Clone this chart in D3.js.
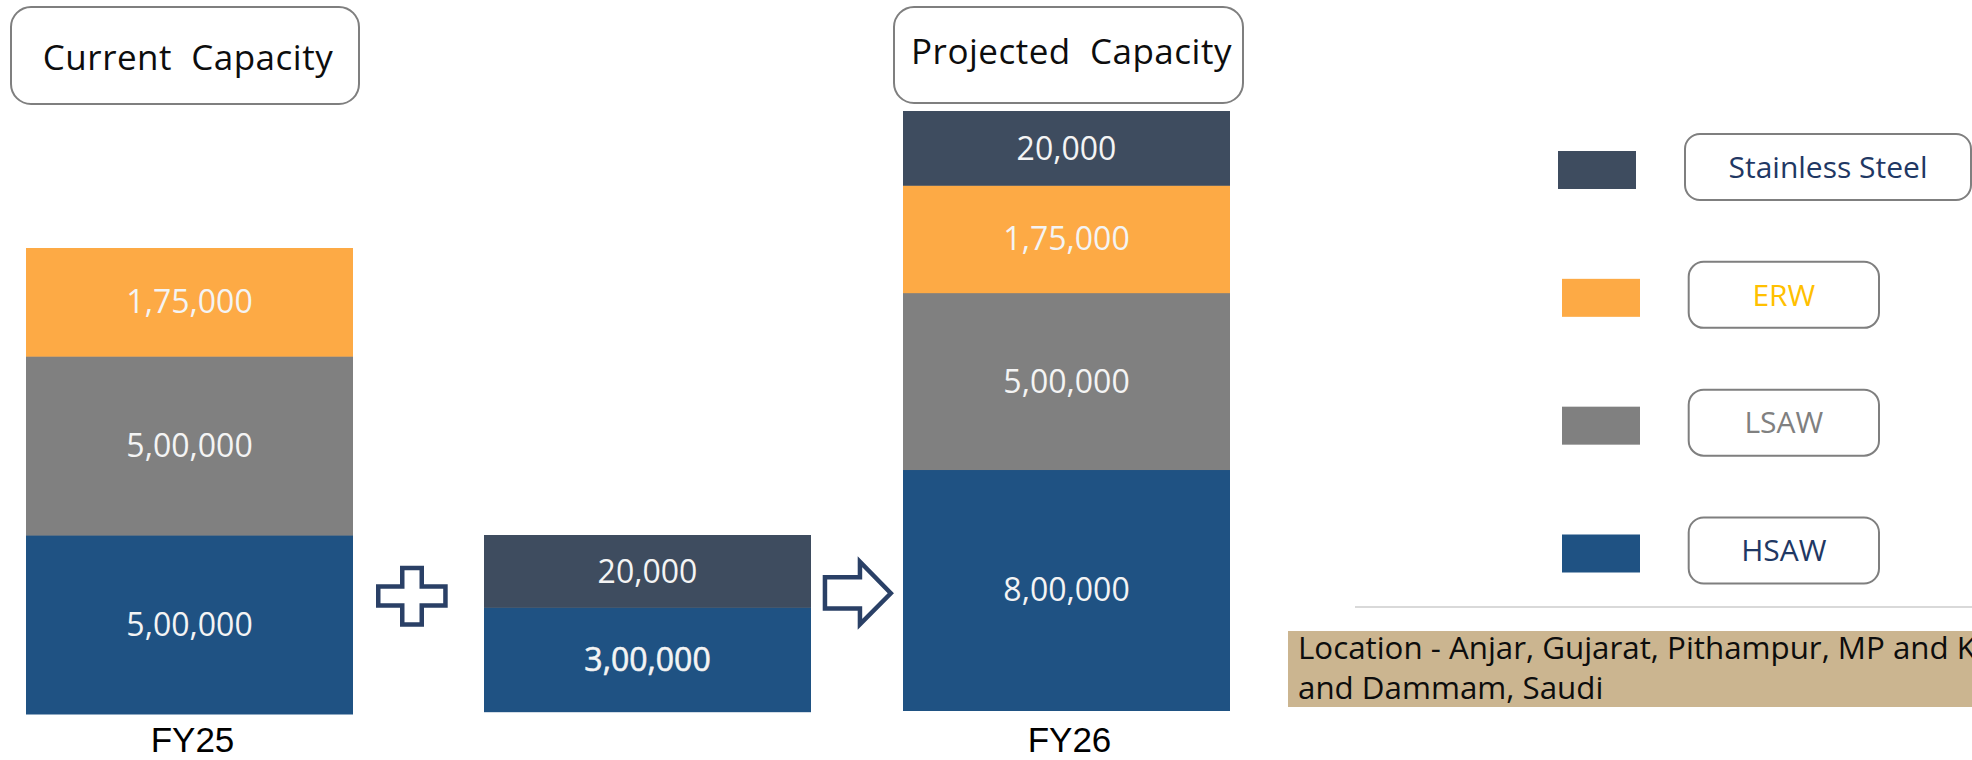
<!DOCTYPE html>
<html><head><meta charset="utf-8">
<script src="https://cdn.jsdelivr.net/npm/d3@7/dist/d3.min.js"></script>
<style>html,body{margin:0;padding:0;background:#fff;overflow:hidden}</style>
</head><body>
<svg id="chart" width="1972" height="760"></svg>
<script>
// ---------------- DATA ----------------
const categories = ["Stainless Steel", "ERW", "LSAW", "HSAW"];        // legend order (top -> bottom)
const stackOrder = ["HSAW", "LSAW", "ERW", "Stainless Steel"];         // bottom -> top
const barKeys = ["FY25", "Addition", "FY26"];
const fy25Values = [0, 175000, 500000, 500000];        // per category
const additionValues = [20000, 0, 0, 300000];
const fy26Values = [20000, 175000, 500000, 800000];
const barLabels = ["FY25", "", "FY26"];
const titleLabels = ["Current  Capacity", "Projected  Capacity"];
const locationLines = ["Location - Anjar, Gujarat, Pithampur, MP and K", "and Dammam, Saudi"];

// ---------------- STYLE / LAYOUT ----------------
const colors = {"Stainless Steel": "#3e4c5f", "ERW": "#fdaa45", "LSAW": "#808080", "HSAW": "#1f5283"};
const legendTextColors = {"Stainless Steel": "#1f3864", "ERW": "#ffc000", "LSAW": "#808080", "HSAW": "#1f3864"};
const FONT = "'Open Sans', 'Noto Sans', sans-serif";
const frames = [
  {x0: 26, x1: 353, top: 248, bottom: 714},
  {x0: 484, x1: 811, top: 535, bottom: 711.7},
  {x0: 903, x1: 1230, top: 111, bottom: 710.5}
];
const baseSegment = 70;   // every block has this minimum height (infographic style)

const svg = d3.select("#chart");

function fmtIN(v) {
  const s = String(v);
  if (s.length <= 3) return s;
  const last3 = s.slice(-3);
  let rest = s.slice(0, -3);
  const parts = [];
  while (rest.length > 2) { parts.unshift(rest.slice(-2)); rest = rest.slice(0, -2); }
  if (rest) parts.unshift(rest);
  return parts.join(",") + "," + last3;
}

const seriesByBar = [fy25Values, additionValues, fy26Values];

barKeys.forEach((key, bi) => {
  const f = frames[bi];
  const vals = seriesByBar[bi];
  const segs = stackOrder
    .map(cat => ({cat, v: vals[categories.indexOf(cat)]}))
    .filter(s => s.v > 0);
  const total = d3.sum(segs, s => s.v);
  const hScale = d3.scaleLinear().domain([0, total])
    .range([0, (f.bottom - f.top) - segs.length * baseSegment]);
  let y = f.bottom;
  segs.forEach(s => { s.h = baseSegment + hScale(s.v); s.y = y - s.h; y -= s.h; });

  const g = svg.append("g");
  g.selectAll("rect").data(segs).join("rect")
    .attr("x", f.x0).attr("width", f.x1 - f.x0)
    .attr("y", d => d.y).attr("height", d => d.h + 0.5)
    .attr("fill", d => colors[d.cat]);
  g.selectAll("text").data(segs).join("text")
    .attr("x", (f.x0 + f.x1) / 2)
    .attr("y", d => d.y + d.h / 2)
    .attr("dy", "0.357em")
    .attr("text-anchor", "middle")
    .attr("font-family", FONT)
    .attr("font-size", 32)
    .attr("fill", "#f4f4f4")
    .attr("stroke", d => (key === "Addition" && d.cat === "HSAW") ? "#f4f4f4" : "none")
    .attr("stroke-width", 0.6)
    .text(d => fmtIN(d.v));
  if (barLabels[bi]) {
    g.append("text")
      .attr("x", (f.x0 + f.x1) / 2 + 3)
      .attr("y", Math.min(f.bottom + 42, 752))
      .attr("text-anchor", "middle")
      .attr("font-family", "'Liberation Sans', Arial, sans-serif")
      .attr("font-size", 35)
      .attr("fill", "#000")
      .text(barLabels[bi]);
  }
});

// ---------------- TITLE BOXES ----------------
const titleBoxes = [
  {x0: 11, x1: 359, y0: 7, y1: 104, base: 70},
  {x0: 894, x1: 1243, y0: 7, y1: 103, base: 63.5}
];
titleBoxes.forEach((b, i) => {
  svg.append("rect").attr("x", b.x0).attr("y", b.y0)
    .attr("width", b.x1 - b.x0).attr("height", b.y1 - b.y0)
    .attr("rx", 20).attr("fill", "#fff").attr("stroke", "#7f7f7f").attr("stroke-width", 2);
  svg.append("text").attr("x", (b.x0 + b.x1) / 2 + 3).attr("y", b.base)
    .attr("text-anchor", "middle").attr("font-family", FONT).attr("font-size", 35)
    .attr("letter-spacing", 0.5)
    .attr("fill", "#0d0d0d").style("white-space", "pre").text(titleLabels[i]);
});

// ---------------- PLUS & ARROW ----------------
const iconColor = "#2a4066", sw = 4.5, s = sw / 2;
{
  const x0 = 376 + s, x1 = 400 + s, x2 = 424 - s, x3 = 447.7 - s;
  const y0 = 565.7 + s, y1 = 584.3 + s, y2 = 607.7 - s, y3 = 626.7 - s;
  const p = d3.path();
  p.moveTo(x1, y0); p.lineTo(x2, y0); p.lineTo(x2, y1); p.lineTo(x3, y1); p.lineTo(x3, y2);
  p.lineTo(x2, y2); p.lineTo(x2, y3); p.lineTo(x1, y3); p.lineTo(x1, y2); p.lineTo(x0, y2);
  p.lineTo(x0, y1); p.lineTo(x1, y1); p.closePath();
  svg.append("path").attr("d", p.toString()).attr("fill", "#fff")
    .attr("stroke", iconColor).attr("stroke-width", sw).attr("stroke-linejoin", "miter");
}
{
  const tx = 822.7 + s, hb = 857.7 + s, tip = 894.3 - 3.5;
  const sy0 = 575 + s, sy1 = 610.7 - s, hy0 = 556.7 + 5, hy1 = 629.3 - 5, ty = 593.3;
  const p = d3.path();
  p.moveTo(tx, sy0); p.lineTo(hb, sy0); p.lineTo(hb, hy0); p.lineTo(tip, ty);
  p.lineTo(hb, hy1); p.lineTo(hb, sy1); p.lineTo(tx, sy1); p.closePath();
  svg.append("path").attr("d", p.toString()).attr("fill", "#fff")
    .attr("stroke", iconColor).attr("stroke-width", sw).attr("stroke-linejoin", "miter");
}

// ---------------- LEGEND ----------------
const legendY = d3.scalePoint().domain(categories).range([167, 550.5]);
const legendLayout = {
  "Stainless Steel": {sx: 1558, bx0: 1685, bx1: 1971},
  "ERW": {sx: 1562, bx0: 1688.7, bx1: 1879},
  "LSAW": {sx: 1562, bx0: 1688.7, bx1: 1879},
  "HSAW": {sx: 1562, bx0: 1688.7, bx1: 1879}
};
const lg = svg.append("g");
categories.forEach(cat => {
  const cy = legendY(cat), L = legendLayout[cat];
  lg.append("rect").attr("x", L.sx).attr("y", cy - 16).attr("width", 78).attr("height", 38)
    .attr("fill", colors[cat]);
  lg.append("rect").attr("x", L.bx0).attr("y", cy - 33).attr("width", L.bx1 - L.bx0).attr("height", 66)
    .attr("rx", 15).attr("fill", "#fff").attr("stroke", "#7f7f7f").attr("stroke-width", 2);
  lg.append("text").attr("x", (L.bx0 + L.bx1) / 2).attr("y", cy).attr("dy", "0.36em")
    .attr("text-anchor", "middle").attr("font-family", FONT).attr("font-size", 30)
    .attr("fill", legendTextColors[cat]).text(cat);
});

// ---------------- SEPARATOR & LOCATION ----------------
svg.append("line").attr("x1", 1355).attr("x2", 1972).attr("y1", 607).attr("y2", 607)
  .attr("stroke", "#d9d9d9").attr("stroke-width", 2);
svg.append("rect").attr("x", 1288).attr("y", 631).attr("width", 684).attr("height", 76)
  .attr("fill", "#cbb590");
svg.append("g").selectAll("text").data(locationLines).join("text")
  .attr("x", 1298).attr("y", (d, i) => 659.3 + i * 40)
  .attr("font-family", FONT).attr("font-size", 31.3).attr("fill", "#0d0d0d")
  .text(d => d);
</script>
</body></html>
